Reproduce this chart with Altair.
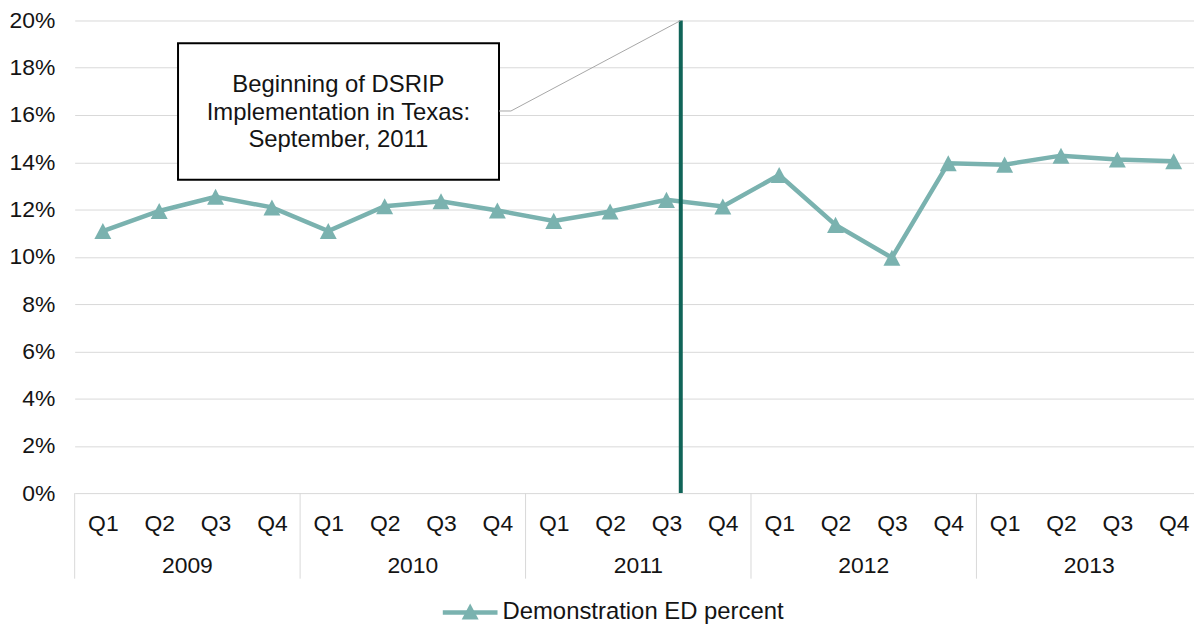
import altair as alt
import pandas as pd

# ---- data ----
years = ["2009", "2010", "2011", "2012", "2013"]
quarters = ["Q1", "Q2", "Q3", "Q4"]
values = [11.09, 11.94, 12.54, 12.09, 11.09,
          12.14, 12.35, 11.96, 11.52, 11.92,
          12.41, 12.13, 13.46, 11.35, 9.96,
          13.96, 13.90, 14.28, 14.12, 14.04]
series_name = "Demonstration ED percent"
y_ticks = [0, 2, 4, 6, 8, 10, 12, 14, 16, 18, 20]
year_bounds = [0, 4, 8, 12, 16]

# annotation (in data units: x = quarter index, y = percent)
event_x = 10.754
box_x = [1.834, 7.529]
box_y = [13.26, 19.04]
note_text = "Beginning of DSRIP\nImplementation in Texas:\nSeptember, 2011"
note_xy = [4.679, 17.26]
leader_x = [7.529, 7.741, 10.754]
leader_y = [16.17, 16.17, 20.0]

FONT = "Liberation Sans"
TXT = "#141414"
TEAL = "#7AB2AF"
DARK = "#106458"
GRID = "#d9d9d9"
TRI = "M0,-0.95L1,0.95L-1,0.95Z"

rows = []
for i, v in enumerate(values):
    rows.append({"idx": i + 0.5, "value": v,
                 "year": years[i // 4], "quarter": quarters[i % 4],
                 "series": series_name})
df = pd.DataFrame(rows)

# the reference crops the last year slightly at the right edge
x_scale = alt.Scale(domain=[0, 19.86], nice=False, zero=False)
y_scale = alt.Scale(domain=[0, 20], nice=False, zero=True)

base = alt.Chart(df)

line = base.mark_line(color=TEAL, strokeWidth=4.5).encode(
    x=alt.X("idx:Q", scale=x_scale, title=None,
            axis=alt.Axis(values=[i + 0.5 for i in range(20)],
                          labelExpr="'Q' + (floor(datum.value) % 4 + 1)",
                          grid=False, domain=False, ticks=False, tickSize=0,
                          labelPadding=31, labelBaseline="middle",
                          labelFontSize=23, labelFont=FONT, labelColor=TXT,
                          labelFlush=False, labelOverlap=False)),
    y=alt.Y("value:Q", scale=y_scale, title=None,
            axis=alt.Axis(values=y_ticks, labelExpr="datum.value + '%'",
                          grid=True, gridColor=GRID, gridWidth=1,
                          domain=False, ticks=False, labelPadding=20,
                          labelFontSize=23, labelFont=FONT, labelColor=TXT,
                          labelFlush=False, labelOverlap=False)),
)

points = base.mark_point(shape=TRI, size=289, filled=True, color=TEAL,
                         opacity=1).encode(
    x=alt.X("idx:Q", title=None),
    y=alt.Y("value:Q", title=None),
)

sep_df = pd.DataFrame({"xb": year_bounds})
seps = alt.Chart(sep_df).mark_rule(color=GRID, strokeWidth=1).encode(
    x=alt.X("xb:Q", title=None),
    y=alt.value(475),
    y2=alt.value(561),
)

yr_df = pd.DataFrame({"yc": [2, 6, 10, 14, 18], "year": years})
year_text = alt.Chart(yr_df).mark_text(font=FONT, fontSize=23, color=TXT,
                                       baseline="middle", align="center").encode(
    x=alt.X("yc:Q", title=None),
    y=alt.value(548),
    text="year:N",
)

ev_df = pd.DataFrame({"ex": [event_x], "y0": [0], "y1": [20]})
event = alt.Chart(ev_df).mark_rule(color=DARK, strokeWidth=4).encode(
    x=alt.X("ex:Q", title=None),
    y=alt.Y("y0:Q", title=None),
    y2="y1:Q",
)

box_df = pd.DataFrame({"x0": [box_x[0]], "x1": [box_x[1]],
                       "y0": [box_y[0]], "y1": [box_y[1]]})
box = alt.Chart(box_df).mark_rect(fill="white", stroke="#000000",
                                  strokeWidth=2).encode(
    x=alt.X("x0:Q", title=None), x2="x1:Q",
    y=alt.Y("y0:Q", title=None), y2="y1:Q",
)

lead_df = pd.DataFrame({"lx": leader_x, "ly": leader_y, "o": [0, 1, 2]})
leader = alt.Chart(lead_df).mark_line(color="#a6a6a6", strokeWidth=1).encode(
    x=alt.X("lx:Q", title=None),
    y=alt.Y("ly:Q", title=None),
    order="o:Q",
)

note_df = pd.DataFrame({"nx": [note_xy[0]], "ny": [note_xy[1]], "t": [note_text]})
note = alt.Chart(note_df).mark_text(font=FONT, fontSize=24, color=TXT,
                                    lineBreak="\n", lineHeight=27.5,
                                    align="center", baseline="middle").encode(
    x=alt.X("nx:Q", title=None),
    y=alt.Y("ny:Q", title=None),
    text="t:N",
)

# legend (drawn manually: line with triangle + label)
leg_df = pd.DataFrame({"series": [series_name]})
leg_line = alt.Chart(leg_df).mark_rule(color=TEAL, strokeWidth=4.5).encode(
    x=alt.value(370), x2=alt.value(425), y=alt.value(595))
leg_pt = alt.Chart(leg_df).mark_point(shape=TRI, size=289, filled=True,
                                      color=TEAL, opacity=1).encode(
    x=alt.value(397.5), y=alt.value(594))
leg_txt = alt.Chart(leg_df).mark_text(font=FONT, fontSize=24, color=TXT,
                                      align="left", baseline="middle").encode(
    x=alt.value(430), y=alt.value(595), text="series:N")

chart = alt.layer(
    line, seps, points, event, box, leader, note, year_text,
    leg_line, leg_pt, leg_txt,
).properties(
    width=1125, height=475,
    padding={"left": 67, "top": 11, "right": 0, "bottom": 130},
    autosize="none",
).configure(background="white").configure_view(stroke=None)

chart.save("out.html", embed_options={"renderer": "svg", "actions": False})
